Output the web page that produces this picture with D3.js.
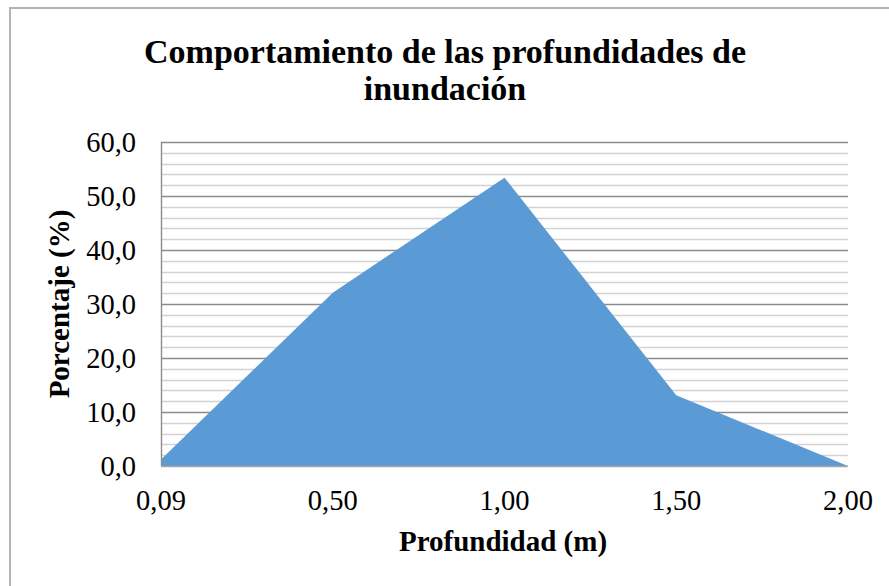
<!DOCTYPE html>
<html>
<head>
<meta charset="utf-8">
<script src="https://cdn.jsdelivr.net/npm/d3@7/dist/d3.min.js"></script>
<style>
  html, body { margin: 0; padding: 0; background: #fff; }
  svg { display: block; }
  text { font-family: "Liberation Serif", "Times New Roman", serif; fill: #000; }
</style>
</head>
<body>
<svg id="chart" width="889" height="586"></svg>
<script>
const categories = ["0,09", "0,50", "1,00", "1,50", "2,00"];
const values = [1.2, 32.1, 53.4, 13.1, 0.0];
const yTicks = [0, 10, 20, 30, 40, 50, 60];
const yMinorStep = 2;
const titleLines = ["Comportamiento de las profundidades de", "inundación"];
const xTitle = "Profundidad (m)";
const yTitle = "Porcentaje (%)";

const W = 889, H = 586;
const margin = { left: 161, right: 41, top: 142, bottom: 120 };
const svg = d3.select("#chart");

// outer frame
svg.append("rect")
  .attr("x", 10).attr("y", 8)
  .attr("width", W + 20).attr("height", H + 20)
  .attr("fill", "none").attr("stroke", "#b4b4b4").attr("stroke-width", 2);

const x = d3.scalePoint().domain(categories).range([margin.left, W - margin.right]).padding(0);
const y = d3.scaleLinear().domain([0, 60]).range([H - margin.bottom, margin.top]);

// minor gridlines
const minor = d3.range(0, 60 + 0.001, yMinorStep).filter(v => v % 10 !== 0);
svg.append("g").selectAll("line").data(minor).join("line")
  .attr("x1", margin.left).attr("x2", W - margin.right)
  .attr("y1", d => Math.round(y(d)) + 0.5).attr("y2", d => Math.round(y(d)) + 0.5)
  .attr("stroke", "#d2d2d2").attr("stroke-width", 1.4);

// major gridlines
svg.append("g").selectAll("line").data(yTicks.filter(v => v > 0)).join("line")
  .attr("x1", margin.left).attr("x2", W - margin.right)
  .attr("y1", d => Math.round(y(d)) + 0.5).attr("y2", d => Math.round(y(d)) + 0.5)
  .attr("stroke", "#8c8c8c").attr("stroke-width", 1.4);

// area
const area = d3.area()
  .x((d, i) => x(categories[i]))
  .y0(y(0))
  .y1(d => y(d));
svg.append("path").datum(values)
  .attr("d", area)
  .attr("fill", "#5b9bd5");

// y axis line
svg.append("line")
  .attr("x1", margin.left + 0.5).attr("x2", margin.left + 0.5)
  .attr("y1", y(60)).attr("y2", y(0))
  .attr("stroke", "#8c8c8c").attr("stroke-width", 1.4);
// x axis line
svg.append("line")
  .attr("x1", margin.left).attr("x2", W - margin.right)
  .attr("y1", Math.round(y(0)) + 0.5).attr("y2", Math.round(y(0)) + 0.5)
  .attr("stroke", "#a6a6a6").attr("stroke-width", 1.6);

// y tick labels
const fmt = v => d3.format(".1f")(v).replace(".", ",");
svg.append("g").selectAll("text").data(yTicks).join("text")
  .attr("x", 136).attr("y", d => y(d))
  .attr("dy", "0.35em")
  .attr("text-anchor", "end")
  .style("font-size", "28.5px")
  .text(fmt);

// x tick labels
svg.append("g").selectAll("text").data(categories).join("text")
  .attr("x", d => x(d)).attr("y", 510)
  .attr("text-anchor", "middle")
  .style("font-size", "28.5px")
  .text(d => d);

// title
svg.append("g").selectAll("text").data(titleLines).join("text")
  .attr("x", 445).attr("y", (d, i) => 63 + i * 37)
  .attr("text-anchor", "middle")
  .style("font-size", "34px").style("font-weight", "bold")
  .text(d => d);

// x title
svg.append("text")
  .attr("x", 503).attr("y", 551)
  .attr("text-anchor", "middle")
  .style("font-size", "29px").style("font-weight", "bold")
  .text(xTitle);

// y title
svg.append("text")
  .attr("transform", "translate(69,304) rotate(-90)")
  .attr("text-anchor", "middle")
  .style("font-size", "29px").style("font-weight", "bold")
  .text(yTitle);
</script>
</body>
</html>
